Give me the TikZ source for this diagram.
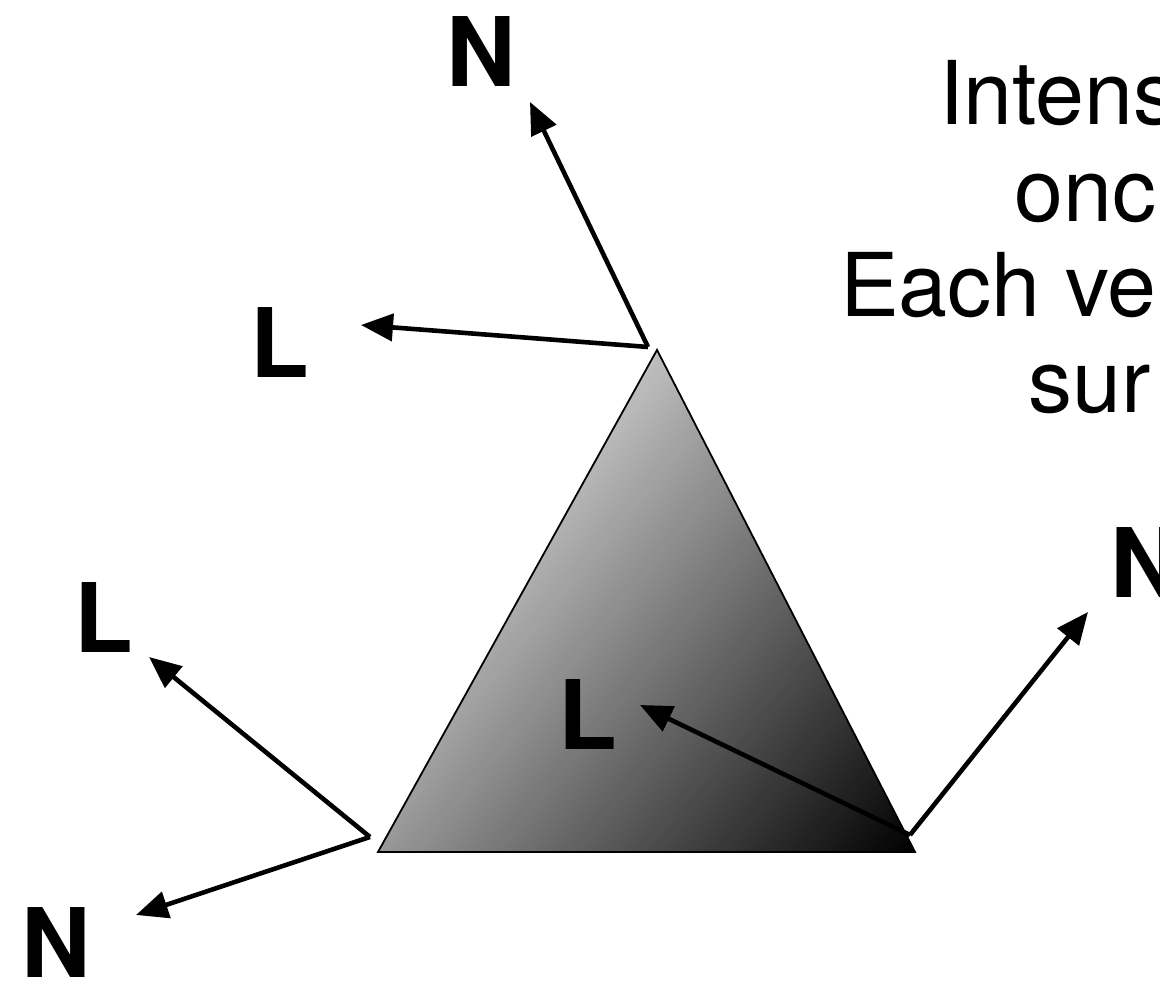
\documentclass[tikz,border=0pt]{standalone}
\usepackage{fontspec}
\setmainfont{TeX Gyre Heros}
\usetikzlibrary{arrows.meta}
\tikzset{
  vec/.style={line width=4.6pt, -{Triangle[length=32pt,width=27pt]}},
  bigbold/.style={anchor=base west, inner sep=0pt, font=\fontsize{96}{96}\selectfont\bfseries},
  bodytext/.style={anchor=base west, inner sep=0pt, font=\fontsize{88}{96}\selectfont},
  tri/.style={line width=1.8pt, line join=miter}
}
\begin{document}
\begin{tikzpicture}[x=1pt,y=1pt]
\useasboundingbox (0,0) rectangle (1160,981);
\clip (0,0) rectangle (1160,981);
% triangle corners
\coordinate (A) at (657,631);
\coordinate (B) at (378,129);
\coordinate (C) at (915,129);
% shaded triangle
\begin{scope}
  \clip (A) -- (B) -- (C) -- cycle;
  \begin{scope}[shift={(915,129)}, rotate=140.5]
    \foreach \i in {0,...,99} {
      \pgfmathsetmacro{\pc}{100-0.75*(\i+0.5)}
      \fill[black!\pc] ({\i*5.18},-900) rectangle ({(\i+1)*5.18+0.6},900);
    }
    \fill[black!25] (518,-900) rectangle (1200,900);
  \end{scope}
\end{scope}
\draw[tri] (A) -- (B) -- (C) -- cycle;
% vector origins and tips
\coordinate (oA) at (648,634);
\coordinate (nA) at (530,879);
\coordinate (lA) at (361,656);
\coordinate (oB) at (370,144);
\coordinate (lB) at (149,324);
\coordinate (nB) at (136,66);
\coordinate (oC) at (910,146);
\coordinate (lC) at (640,276);
\coordinate (nC) at (1088,369);
\draw[vec] (oA) -- (nA);
\draw[vec] (oA) -- (lA);
\draw[vec] (oB) -- (lB);
\draw[vec] (oB) -- (nB);
\draw[vec] (oC) -- (lC);
\draw[vec] (oC) -- (nC);
% labels
\node[bigbold] (NA) at (446,894) {N};
\node[bigbold] (LA) at (250,603) {L};
\node[bigbold] (LB) at (74,328) {L};
\node[bigbold] (NB) at (21,3) {N};
\node[bigbold] (LC) at (558,231) {L};
\node[bigbold] (NC) at (1110,383) {N};
% text block (cut off at the right edge, as in the reference)
\node[bodytext] (t1) at (939,856) {Intens};
\node[bodytext] (t2) at (1014,759) {onc};
\node[bodytext] (t3) at (840,664) {Each ve};
\node[bodytext] (t4) at (1028,568) {sur};
\end{tikzpicture}
\end{document}
